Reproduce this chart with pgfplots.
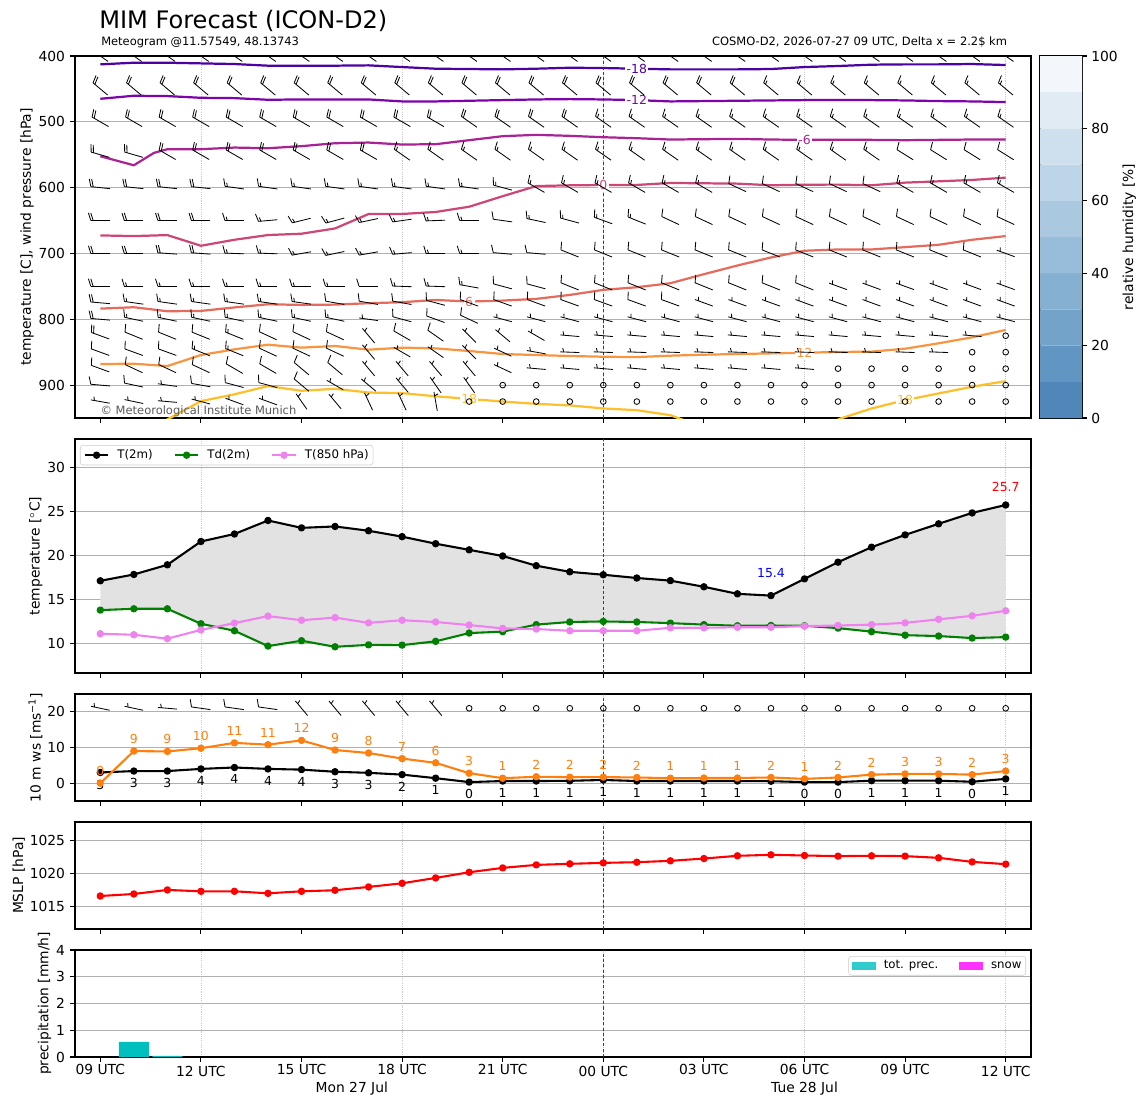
\documentclass[border=0pt]{standalone}
\usepackage{fontspec}
\setmainfont{DejaVu Sans}
\usepackage{pgfplots}
\pgfplotsset{compat=1.18}
\usepackage{pgfplotstable}
\usepgfplotslibrary{fillbetween}

\definecolor{cmA}{HTML}{4C02A1}
\definecolor{cmB}{HTML}{7E03A8}
\definecolor{cmC}{HTML}{A92395}
\definecolor{cmD}{HTML}{CC4778}
\definecolor{cmE}{HTML}{E56B5D}
\definecolor{cmF}{HTML}{F89540}
\definecolor{cmG}{HTML}{FDBF2A}
\definecolor{gridc}{HTML}{B0B0B0}
\definecolor{tdgreen}{HTML}{008000}
\definecolor{violetc}{HTML}{EE82EE}
\definecolor{tabor}{HTML}{FF7F0E}
\definecolor{precc}{HTML}{00BFBF}
\definecolor{snowc}{HTML}{FF00FF}
\definecolor{fillg}{HTML}{E2E2E2}
\definecolor{cb0}{RGB}{80,134,185}
\definecolor{cb1}{RGB}{98,150,194}
\definecolor{cb2}{RGB}{116,163,202}
\definecolor{cb3}{RGB}{134,176,210}
\definecolor{cb4}{RGB}{152,189,218}
\definecolor{cb5}{RGB}{170,201,225}
\definecolor{cb6}{RGB}{188,213,232}
\definecolor{cb7}{RGB}{206,224,238}
\definecolor{cb8}{RGB}{224,235,244}
\definecolor{cb9}{RGB}{243,247,251}

\newcommand\fs[1]{\fontsize{#1}{#1}\selectfont}

% ---------- data ----------
% wind barbs: t = screen angle of the feathered end (deg), k = speed (kt)
\pgfplotstableread{
h t400 k400 t450 k450 t500 k500 t550 k550 t600 k600 t650 k650 t700 k700 t750 k750 t775 k775 t800 k800 t825 k825 t850 k850 t875 k875 t900 k900 t925 k925 t10 k10
0  145 20 140 20 150 20 164 20 174 20 180 20 180 20 180 20 175 20 175 20 160 20 160 10 160 10 175 10 170 5 168 5
1  145 20 140 20 150 20 164 20 174 20 180 20 180 20 180 15 172 15 168 15 158 10 160 10 155 10 168 10 168 5 168 5
2  145 20 140 20 150 20 150 20 174 20 180 20 176 20 180 15 172 15 168 15 158 10 160 10 155 10 172 5 175 5 175 5
3  145 20 140 20 150 20 150 20 174 20 180 20 176 20 180 15 172 15 168 15 158 10 158 15 155 10 170 10 165 5 172 10
4  145 20 140 20 150 20 150 20 172 15 180 15 178 15 180 15 172 15 168 15 158 15 158 15 150 10 165 10 160 5 172 10
5  145 20 140 20 150 20 150 20 172 15 185 15 178 15 180 15 172 15 168 15 155 10 155 10 150 10 165 10 160 5 172 10
6  145 20 140 20 150 20 150 20 172 15 194 15 190 15 180 15 172 15 168 15 155 10 155 10 140 10 140 10 125 5 130 5
7  145 20 140 20 150 20 150 20 172 15 195 15 192 15 180 15 170 10 168 15 155 10 155 10 140 10 150 5 130 5 130 5
8  145 20 140 20 150 20 150 20 172 15 192 15 190 15 180 10 170 10 172 5 130 5 130 5 130 5 140 5 115 5 130 5
9  145 20 140 20 150 20 145 15 172 15 188 15 185 15 178 15 170 10 165 10 150 10 150 5 130 5 130 5 115 5 130 5
10 145 20 140 20 150 20 145 15 172 15 182 15 180 15 178 15 165 10 160 10 145 10 145 5 130 5 125 5 100 5 130 5
11 145 20 140 20 145 20 145 15 172 15 180 15 180 15 170 15 160 10 155 10 135 5 135 5 130 5 125 5 0 0 0 0
12 145 20 140 20 145 20 145 15 165 15 172 10 175 10 165 10 160 10 165 5 140 5 155 5 155 5 0 0 0 0 0 0
13 145 20 140 20 145 20 145 15 150 15 168 15 175 10 165 10 160 10 165 5 150 5 170 5 175 5 0 0 0 0 0 0
14 145 20 140 20 145 20 145 15 150 15 165 15 158 10 158 10 160 10 165 5 175 5 178 5 175 5 0 0 0 0 0 0
15 145 20 140 20 145 15 145 15 150 15 160 15 158 10 158 10 160 10 165 5 175 5 178 5 175 5 0 0 0 0 0 0
16 145 20 140 20 145 15 145 15 150 15 158 15 158 10 158 10 160 10 165 5 175 5 178 5 175 5 0 0 0 0 0 0
17 145 20 140 20 145 15 145 15 150 15 155 10 158 10 158 10 160 10 165 5 175 5 178 5 175 5 0 0 0 0 0 0
18 145 20 140 20 145 15 145 15 150 15 155 10 158 10 158 10 160 5 165 5 175 5 178 5 175 5 0 0 0 0 0 0
19 145 20 140 20 145 15 145 15 155 10 155 10 158 10 158 10 160 5 165 5 175 5 178 5 175 5 0 0 0 0 0 0
20 145 20 140 15 145 15 145 15 155 10 155 10 158 10 158 10 160 5 165 5 175 5 178 5 175 5 0 0 0 0 0 0
21 145 20 140 15 145 15 145 15 155 10 155 10 158 10 158 10 160 5 165 5 175 5 178 5 175 5 0 0 0 0 0 0
22 145 20 140 15 145 15 145 15 155 10 155 10 158 10 160 5 160 5 165 5 175 5 178 5 0 0 0 0 0 0 0 0
23 145 20 140 15 145 15 145 15 155 10 155 10 158 10 160 5 160 5 165 5 175 5 178 5 0 0 0 0 0 0 0 0
24 145 20 140 15 145 15 148 10 150 15 155 10 158 10 160 5 160 5 165 5 175 5 178 5 0 0 0 0 0 0 0 0
25 145 20 140 15 145 15 148 10 150 15 155 10 158 10 160 5 160 5 165 5 175 5 178 5 0 0 0 0 0 0 0 0
26 145 20 140 15 145 15 148 10 150 15 155 10 158 10 160 5 160 5 165 5 175 5 0 0 0 0 0 0 0 0 0 0
27 145 20 140 15 145 15 148 10 150 15 155 10 160 5 160 5 160 5 165 5 0 0 0 0 0 0 0 0 0 0 0 0
}\barbtab

\pgfplotstableread{
h T Td T8
0 17.08 13.75 11.06
1 17.8 13.9 10.95
2 18.9 13.9 10.5
3 21.55 12.2 11.5
4 22.4 11.4 12.27
5 23.94 9.66 13.07
6 23.1 10.27 12.6
7 23.26 9.58 12.9
8 22.77 9.8 12.3
9 22.1 9.77 12.6
10 21.3 10.2 12.4
11 20.6 11.14 12.05
12 19.9 11.3 11.67
13 18.8 12.1 11.6
14 18.1 12.4 11.4
15 17.77 12.46 11.4
16 17.4 12.4 11.4
17 17.1 12.27 11.74
18 16.4 12.1 11.74
19 15.6 11.97 11.8
20 15.4 12.0 11.8
21 17.3 11.97 11.93
22 19.2 11.7 12.0
23 20.9 11.3 12.1
24 22.3 10.9 12.3
25 23.56 10.8 12.7
26 24.8 10.57 13.1
27 25.7 10.68 13.67
}\ttab

\pgfplotstableread{
h ws wsl g gl
0 3.0 3 0.0 0
1 3.4 3 9.0 9
2 3.4 3 8.9 9
3 4.0 4 9.8 10
4 4.4 4 11.3 11
5 4.0 4 10.8 11
6 3.8 4 12.0 12
7 3.2 3 9.3 9
8 2.9 3 8.45 8
9 2.4 2 6.9 7
10 1.4 1 5.7 6
11 0.3 0 2.8 3
12 0.6 1 1.4 1
13 0.6 1 1.8 2
14 0.66 1 1.7 2
15 0.9 1 1.7 2
16 0.6 1 1.6 2
17 0.6 1 1.4 1
18 0.6 1 1.45 1
19 0.6 1 1.45 1
20 0.55 1 1.6 2
21 0.3 0 1.2 1
22 0.3 0 1.6 2
23 0.7 1 2.4 2
24 0.7 1 2.6 3
25 0.7 1 2.6 3
26 0.4 0 2.4 2
27 1.2 1 3.4 3
}\wtab

\pgfplotstableread{
h p
0 1016.56
1 1016.87
2 1017.49
3 1017.28
4 1017.28
5 1016.97
6 1017.28
7 1017.44
8 1017.95
9 1018.51
10 1019.33
11 1020.2
12 1020.87
13 1021.33
14 1021.49
15 1021.64
16 1021.74
17 1021.95
18 1022.3
19 1022.72
20 1022.87
21 1022.77
22 1022.67
23 1022.72
24 1022.67
25 1022.41
26 1021.79
27 1021.44
}\ptab

\pgfplotsset{
  mbase/.style={
    scale only axis, width=688.32bp, anchor=north west,
    xmin=-0.755, xmax=27.755,
    xtick={0,3,...,27}, minor xtick={3,9,15,21,27},
    xminorgrids=true, minor tick length=0pt,
    minor grid style={draw=black!22, dash pattern=on 0.8bp off 0.8bp, line width=0.5bp},
    ymajorgrids=true,
    major grid style={draw=gridc, line width=0.8bp},
    tick align=outside, major tick length=3.5bp,
    tick style={black, line width=0.8bp},
    xtick pos=bottom, ytick pos=left,
    axis line style={line width=0.8bp},
    /pgf/number format/assume math mode=true,
    /pgf/number format/1000 sep={},
    tick label style={font=\fs{10}},
    label style={font=\fs{10}},
    xticklabel style={inner sep=0pt, yshift=-1.8bp},
    yticklabel style={inner sep=0pt, xshift=-3.5bp},
  },
  barbq/.style={black, line width=0.6bp, forget plot, quiver/every arrow/.append style={-}},
  iso/.style={line width=1.6bp, line join=round},
  tline/.style={line width=1.5bp, mark=*, mark size=1.9bp, line join=round},
}
\tikzset{clab/.style={font=\fs{9}, fill=white, inner sep=1bp},
  line00/.style={black!75, line width=0.6bp, dash pattern=on 2.2bp off 1.6bp}}

% barb geometry: shaft length (bp) and x scale (bp per hour)
\def\BLv{13.7}
\def\UX{24.1431}
% #1 column suffix, #2 level value, #3 signed bp per y unit
\newcommand\barbrow[3]{%
 \addplot[barbq, quiver={u={\BLv*cos(\thisrow{t#1})/\UX}, v={\BLv*sin(\thisrow{t#1})/(#3)}}]
   table[x expr={\thisrow{h}-0.5*\BLv*cos(\thisrow{t#1})/\UX},
         y expr={\thisrow{k#1}>4 ? #2-0.5*\BLv*sin(\thisrow{t#1})/(#3) : nan}] {\barbtab};
 \addplot[barbq, quiver={u={\BLv*(0.125*cos(\thisrow{t#1})+0.4*sin(\thisrow{t#1}))/\UX}, v={\BLv*(0.125*sin(\thisrow{t#1})-0.4*cos(\thisrow{t#1}))/(#3)}}]
   table[x expr={\thisrow{h}+0.5*\BLv*cos(\thisrow{t#1})/\UX},
         y expr={\thisrow{k#1}>9 ? #2+0.5*\BLv*sin(\thisrow{t#1})/(#3) : nan}] {\barbtab};
 \addplot[barbq, quiver={u={\BLv*(0.125*cos(\thisrow{t#1})+0.4*sin(\thisrow{t#1}))/\UX}, v={\BLv*(0.125*sin(\thisrow{t#1})-0.4*cos(\thisrow{t#1}))/(#3)}}]
   table[x expr={\thisrow{h}+0.375*\BLv*cos(\thisrow{t#1})/\UX},
         y expr={\thisrow{k#1}>19 ? #2+0.375*\BLv*sin(\thisrow{t#1})/(#3) : nan}] {\barbtab};
 \addplot[barbq, quiver={u={\BLv*(0.0625*cos(\thisrow{t#1})+0.2*sin(\thisrow{t#1}))/\UX}, v={\BLv*(0.0625*sin(\thisrow{t#1})-0.2*cos(\thisrow{t#1}))/(#3)}}]
   table[x expr={\thisrow{h}+(\thisrow{k#1}<10 ? 0.3125 : 0.5-0.125*floor(\thisrow{k#1}/10))*\BLv*cos(\thisrow{t#1})/\UX},
         y expr={\thisrow{k#1}-10*floor(\thisrow{k#1}/10)>4 ? #2+(\thisrow{k#1}<10 ? 0.3125 : 0.5-0.125*floor(\thisrow{k#1}/10))*\BLv*sin(\thisrow{t#1})/(#3) : nan}] {\barbtab};
 \addplot[black, only marks, mark=o, mark size=2.06bp, mark options={line width=0.6bp}, forget plot]
   table[x=h, y expr={\thisrow{k#1}<5 ? #2 : nan}] {\barbtab};
}

\begin{document}
\begin{tikzpicture}
\path (0,0) rectangle (826.56bp,-795.6bp);

\node[anchor=base west, inner sep=0pt, font=\fs{17.4}] at (71.3bp,-20.4bp) {MIM Forecast (ICON-D2)};
\node[anchor=base west, inner sep=0pt, font=\fs{8.3}] at (72.7bp,-32.4bp) {Meteogram @11.57549, 48.13743};
\node[anchor=base east, inner sep=0pt, font=\fs{8.3}] at (725.3bp,-32.4bp) {COSMO-D2, 2026-07-27 09 UTC, Delta x = 2.2\$ km};

% ================= panel 1 =================
\begin{axis}[mbase, at={(54bp,-40.32bp)}, height=260.64bp,
  ymin=400, ymax=950, y dir=reverse, ytick={400,500,...,900}, xticklabels={},
  ylabel={temperature [C], wind pressure [hPa]}]
\draw[line00] (axis cs:15,400) -- (axis cs:15,950);
\addplot[cmA, iso] coordinates {(0,412.7)(1,410.2)(2,410.2)(3,411.2)(4,412.2)(5,414.7)(6,414.7)(7,414.7)(8,414.2)(9,416.8)(10,419.3)(11,419.8)(12,420.3)(13,419.3)(14,417.8)(15,418.3)(16,419.3)(17,420.3)(18,420.3)(19,420.3)(20,419.8)(21,416.8)(22,415.2)(23,413.2)(24,412.7)(25,412.7)(26,412.2)(27,413.7)};
\addplot[cmB, iso] coordinates {(0,465)(1,460.4)(2,460.9)(3,463.5)(4,464)(5,466.5)(6,466)(7,466)(8,466)(9,469)(10,469)(11,468)(12,467)(13,466)(14,465.5)(15,466)(16,467)(17,469)(18,468.5)(19,468)(20,467.5)(21,467)(22,467)(23,467)(24,467.5)(25,468.5)(26,469)(27,470)};
\addplot[cmC, iso] coordinates {(0,552.3)(1,566)(1.6,547.2)(2,541.6)(3,541.6)(4,539.1)(5,540.1)(6,537)(7,532.5)(8,531.5)(9,534.5)(10,534)(11,527.9)(12,521.8)(13,519.8)(14,521.3)(15,523.4)(16,524.9)(17,526.9)(18,526.4)(19,525.9)(20,526.9)(21,527.4)(22,527.4)(23,527.4)(24,527.9)(25,527.4)(26,526.9)(27,526.9)};
\addplot[cmD, iso] coordinates {(0,672.6)(1,673.6)(2,672.1)(3,688.3)(4,679.2)(5,672)(6,670)(7,662)(8,640.1)(9,640)(10,637)(11,629)(12,613)(13,597.6)(14,596.5)(15,596)(16,595.9)(17,592.9)(18,593.4)(19,593.9)(20,596.4)(21,595.5)(22,595.4)(23,596.4)(24,592.4)(25,590.4)(26,588.3)(27,584.8)};
\addplot[cmE, iso] coordinates {(0,783.8)(1,781.7)(2,787.8)(3,787.3)(4,782)(5,777.2)(6,778.2)(7,777.7)(8,775.6)(9,774.1)(10,770.6)(11,773.1)(12,771.6)(13,769)(14,763)(15,755.3)(16,751.3)(17,745.2)(18,731.5)(19,718.3)(20,706.1)(21,695.9)(22,693.9)(23,693.9)(24,690.4)(25,686.8)(26,679.2)(27,673.6)};
\addplot[cmF, iso] coordinates {(0,868)(1,867.5)(2,871.1)(3,854.3)(4,845.7)(5,838.6)(6,843.1)(7,840.6)(8,846.2)(9,843.1)(10,844.2)(11,848.2)(12,852.8)(13,854.3)(14,855.8)(15,856.9)(16,857.4)(17,855.3)(18,853.8)(19,852.8)(20,851.8)(21,850.8)(22,849.7)(23,849.2)(24,844.7)(25,836.5)(26,827.4)(27,816.2)};
\addplot[cmG, iso] coordinates {(1.9,955)(3,924.4)(4,914)(5,901.5)(6,908.6)(7,905.6)(8,911.3)(9,912.2)(10,917)(11,921)(12,925)(13,928.5)(14,930.8)(15,935.5)(16,938.1)(17,945.7)(17.5,955)};
\addplot[cmG, iso] coordinates {(22,952)(23,935.5)(24,922.8)(25,912.7)(26,902.5)(27,893.9)};
\node[clab, text=cmA] at (axis cs:16,419.3) {-18};
\node[clab, text=cmB] at (axis cs:16,467) {-12};
\node[clab, text=cmC] at (axis cs:21,527.4) {-6};
\node[clab, text=cmD] at (axis cs:15,596) {0};
\node[clab, text=cmE] at (axis cs:11,773.1) {6};
\node[clab, text=cmF] at (axis cs:21,850.8) {12};
\node[clab, text=cmG] at (axis cs:11,921) {18};
\node[clab, text=cmG] at (axis cs:24,922.8) {18};
\barbrow{400}{400}{-0.473891}
\barbrow{450}{450}{-0.473891}
\barbrow{500}{500}{-0.473891}
\barbrow{550}{550}{-0.473891}
\barbrow{600}{600}{-0.473891}
\barbrow{650}{650}{-0.473891}
\barbrow{700}{700}{-0.473891}
\barbrow{750}{750}{-0.473891}
\barbrow{775}{775}{-0.473891}
\barbrow{800}{800}{-0.473891}
\barbrow{825}{825}{-0.473891}
\barbrow{850}{850}{-0.473891}
\barbrow{875}{875}{-0.473891}
\barbrow{900}{900}{-0.473891}
\barbrow{925}{925}{-0.473891}
\node[anchor=base west, inner sep=0pt, font=\fs{8.3}, text=black!65] at (axis cs:0,944) {© Meteorological Institute Munich};
\end{axis}

% ================= colorbar =================
\begin{axis}[at={(748.8bp,-40.32bp)}, anchor=north west, scale only axis,
  width=30.24bp, height=260.64bp, xmin=0, xmax=1, ymin=0, ymax=100,
  xtick=\empty, ytick={0,20,...,100}, ytick pos=right, yticklabel pos=right,
  tick align=outside, major tick length=3.5bp, tick style={black, line width=0.8bp},
  axis line style={line width=0.8bp},
  /pgf/number format/assume math mode=true,
  tick label style={font=\fs{10}}, yticklabel style={inner sep=0pt, xshift=3bp},
  ylabel={relative humidity [\%]}, ylabel near ticks, label style={font=\fs{10}}]
\addplot[fill=cb0, draw=none] coordinates {(0,0)(1,0)(1,10)(0,10)(0,0)};
\addplot[fill=cb1, draw=none] coordinates {(0,10)(1,10)(1,20)(0,20)(0,10)};
\addplot[fill=cb2, draw=none] coordinates {(0,20)(1,20)(1,30)(0,30)(0,20)};
\addplot[fill=cb3, draw=none] coordinates {(0,30)(1,30)(1,40)(0,40)(0,30)};
\addplot[fill=cb4, draw=none] coordinates {(0,40)(1,40)(1,50)(0,50)(0,40)};
\addplot[fill=cb5, draw=none] coordinates {(0,50)(1,50)(1,60)(0,60)(0,50)};
\addplot[fill=cb6, draw=none] coordinates {(0,60)(1,60)(1,70)(0,70)(0,60)};
\addplot[fill=cb7, draw=none] coordinates {(0,70)(1,70)(1,80)(0,80)(0,70)};
\addplot[fill=cb8, draw=none] coordinates {(0,80)(1,80)(1,90)(0,90)(0,80)};
\addplot[fill=cb9, draw=none] coordinates {(0,90)(1,90)(1,100)(0,100)(0,90)};
\end{axis}

% ================= panel 2 =================
\begin{axis}[mbase, at={(54bp,-316.08bp)}, height=168.48bp,
  ymin=6.6, ymax=33.2, ytick={10,15,...,30}, xticklabels={},
  ylabel={temperature [$^\circ$C]},
  legend style={at={(0.0052,0.974)}, anchor=north west, legend columns=3,
    font=\fs{8.5}, draw=black!20, rounded corners=2bp, fill=white,
    fill opacity=0.8, text opacity=1, inner xsep=2.5bp, inner ysep=2.5bp,
    nodes={inner sep=0.6bp},
    /tikz/every odd column/.append style={column sep=5.2bp},
    /tikz/every even column/.append style={column sep=14.5bp}},
  legend image code/.code={\draw[sharp corners, mark repeat=2,mark phase=2,#1] plot coordinates {(0bp,0bp) (8.5bp,0bp) (17bp,0bp)};},
  legend cell align=left]
\draw[line00] (axis cs:15,6.6) -- (axis cs:15,33.2);
\addplot[draw=none, name path=Tp, forget plot] table[x=h, y=T] {\ttab};
\addplot[draw=none, name path=Tdp, forget plot] table[x=h, y=Td] {\ttab};
\addplot[fill=fillg, draw=none, forget plot] fill between[of=Tp and Tdp];
\addplot[black, tline] table[x=h, y=T] {\ttab};
\addlegendentry{T(2m)}
\addplot[tdgreen, tline] table[x=h, y=Td] {\ttab};
\addlegendentry{Td(2m)}
\addplot[violetc, tline] table[x=h, y=T8] {\ttab};
\addlegendentry{T(850 hPa)}
\node[font=\fs{9}, text=blue] at (axis cs:20,18.0) {15.4};
\node[font=\fs{9}, text=red] at (axis cs:27,27.7) {25.7};
\end{axis}

% ================= panel 3 =================
\begin{axis}[mbase, at={(54bp,-499.68bp)}, height=77.04bp,
  ymin=-5, ymax=25, ytick={0,10,20}, xticklabels={},
  ylabel={10 m ws [ms\textsuperscript{−1}]}]
\draw[line00] (axis cs:15,-5) -- (axis cs:15,25);
\barbrow{10}{21}{2.568}
\addplot[black, tline, nodes near coords, point meta=explicit symbolic,
  every node near coord/.append style={anchor=north, yshift=-4.6bp, inner sep=0pt, font=\fs{9}, text=black}]
  table[x=h, y=ws, meta=wsl] {\wtab};
\addplot[tabor, tline, nodes near coords, point meta=explicit symbolic,
  every node near coord/.append style={anchor=south, yshift=4.6bp, inner sep=0pt, font=\fs{9}, text=tabor}]
  table[x=h, y=g, meta=gl] {\wtab};
\end{axis}

% ================= panel 4 =================
\begin{axis}[mbase, at={(54bp,-591.84bp)}, height=77.04bp,
  ymin=1011.5, ymax=1027.9, ytick={1015,1020,1025}, xticklabels={},
  ylabel={MSLP [hPa]}]
\draw[line00] (axis cs:15,1011.5) -- (axis cs:15,1027.9);
\addplot[red, tline] table[x=h, y=p] {\ptab};
\end{axis}

% ================= panel 5 =================
\begin{axis}[mbase, at={(54bp,-684bp)}, height=77.04bp,
  ymin=0, ymax=4, ytick={0,1,2,3,4},
  xticklabels={09 UTC, \rule{0pt}{8.8bp}12 UTC, 15 UTC, 18 UTC, 21 UTC, \rule{0pt}{8.8bp}00 UTC, 03 UTC, 06 UTC, 09 UTC, \rule{0pt}{8.8bp}12 UTC},
  ylabel={precipitation [mm/h]},
  legend style={at={(0.9948,0.944)}, anchor=north east, legend columns=2,
    font=\fs{8.5}, draw=black!20, rounded corners=2bp, fill=white,
    fill opacity=0.8, text opacity=1, inner xsep=2.5bp, inner ysep=2.5bp,
    nodes={inner sep=0.6bp},
    /tikz/every odd column/.append style={column sep=5.2bp},
    /tikz/every even column/.append style={column sep=14.5bp}},
  legend cell align=left]
\draw[line00] (axis cs:15,0) -- (axis cs:15,4);
\addplot[ybar, bar width=0.9, bar shift=0pt, fill=precc, draw=none,
  legend image code/.code={\fill[precc, sharp corners] (0bp,-3bp) rectangle (17bp,3bp);}]
  coordinates {(1,0.57) (2,0.04)};
\addlegendentry{tot. prec.}
\addplot[ybar, bar width=0.9, bar shift=0pt, fill=snowc, draw=none,
  legend image code/.code={\fill[snowc, sharp corners] (0bp,-3bp) rectangle (17bp,3bp);}]
  coordinates {(1,0)};
\addlegendentry{snow}
\coordinate (monlab) at (axis cs:7.5,0);
\coordinate (tuelab) at (axis cs:21,0);
\end{axis}
\node[anchor=north, inner sep=0pt, font=\fs{10}, yshift=-17.8bp] at (monlab) {Mon 27 Jul};
\node[anchor=north, inner sep=0pt, font=\fs{10}, yshift=-17.8bp] at (tuelab) {Tue 28 Jul};
\end{tikzpicture}
\end{document}
